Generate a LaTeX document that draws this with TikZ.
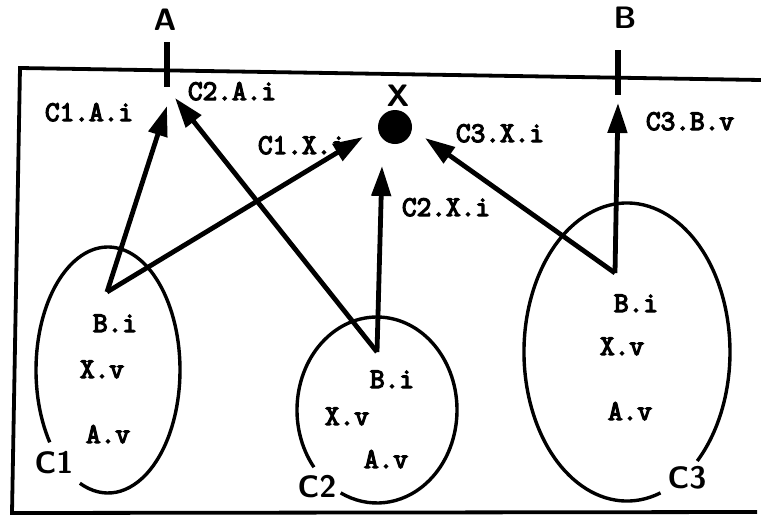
\documentclass[tikz,border=0pt]{standalone}
\usepackage{fontspec}
\setmonofont{Latin Modern Mono}[AutoFakeBold=4.5]
\usetikzlibrary{arrows.meta,positioning}

\begin{document}
\begin{tikzpicture}[
    x=1pt, y=-1pt,
    lbl/.style={font=\ttfamily\bfseries\fontsize{28.5}{28.5}\selectfont, anchor=base, inner sep=0pt},
    bigname/.style={font=\sffamily\bfseries\fontsize{31}{31}\selectfont, anchor=base, inner sep=0pt},
    link/.style={-{Triangle[length=30pt,width=19pt]}, line width=4.8pt},
    comp/.style={line width=3.4pt},
    port/.style={line width=6.5pt}
]
\useasboundingbox (0,0) rectangle (761,523);

% Frame (open on the right)
\draw[line width=3.8pt, line join=miter] (761,80) -- (20,68) -- (12,513) -- (757,512);

% Ports on the frame
\coordinate (Atop) at (167,42);
\coordinate (Abot) at (167,87);
\coordinate (Btop) at (618,50);
\coordinate (Bbot) at (618,95);
\draw[port] (Atop) -- (Abot);
\draw[port] (Btop) -- (Bbot);
\node[bigname] (portA) at (165,30) {A};
\node[bigname] (portB) at (625,28) {B};

% Shared variable X
\node[circle, fill=black, minimum size=34pt, inner sep=0pt] (dotX) at (395,127) {};
\node[bigname] (varX) at (398,106) {X};

% Components (ellipses opened where the name sits)
\draw[comp] (108,370) ++(144:72 and 123) arc[start angle=144, end angle=473, x radius=72, y radius=123];
\draw[comp] (377,410) ++(142:80 and 93) arc[start angle=142, end angle=477, x radius=80, y radius=93];
\draw[comp] (627,352) ++(71:103 and 149) arc[start angle=71, end angle=407, x radius=103, y radius=149];
\node[bigname] (cA) at (54,473) {C1};
\node[bigname] (cB) at (317,497) {C2};
\node[bigname] (cC) at (687,488) {C3};

% Variables inside components
\node[lbl] (c1b) at (115,332) {B.i};
\node[lbl] (c1x) at (102,378) {X.v};
\node[lbl] (c1a) at (108,443) {A.v};
\node[lbl] (c2b) at (392,388) {B.i};
\node[lbl] (c2x) at (347,425) {X.v};
\node[lbl] (c2a) at (386,468) {A.v};
\node[lbl] (c3b) at (636,312) {B.i};
\node[lbl] (c3x) at (622,355) {X.v};
\node[lbl] (c3a) at (630,420) {A.v};

% Apexes and arrow targets
\coordinate (apexA) at (107,292);
\coordinate (apexB) at (377,352);
\coordinate (apexC) at (615,273);
\coordinate (tipA1) at (167,106);
\coordinate (tipA2) at (175,98);
\coordinate (tipX1) at (363,137);
\coordinate (tipX2) at (382,166);
\coordinate (tipX3) at (425,138);
\coordinate (tipB)  at (618,103);

% Connections
\draw[link] (apexA) -- (tipA1);
\draw[link] (apexA) -- (tipX1);
\draw[link] (apexB) -- (tipA2);
\draw[link] (apexB) -- (tipX2);
\draw[link] (apexC) -- (tipX3);
\draw[link] (apexC) -- (tipB);

% Connection labels
\node[lbl] (l1) at (89,121) {C1.A.i};
\node[lbl] (l2) at (232,100) {C2.A.i};
\node[lbl] (l3) at (302,154) {C1.X.i};
\node[lbl] (l4) at (446,216) {C2.X.i};
\node[lbl] (l5) at (500,142) {C3.X.i};
\node[lbl] (l6) at (690,130) {C3.B.v};

\end{tikzpicture}
\end{document}
